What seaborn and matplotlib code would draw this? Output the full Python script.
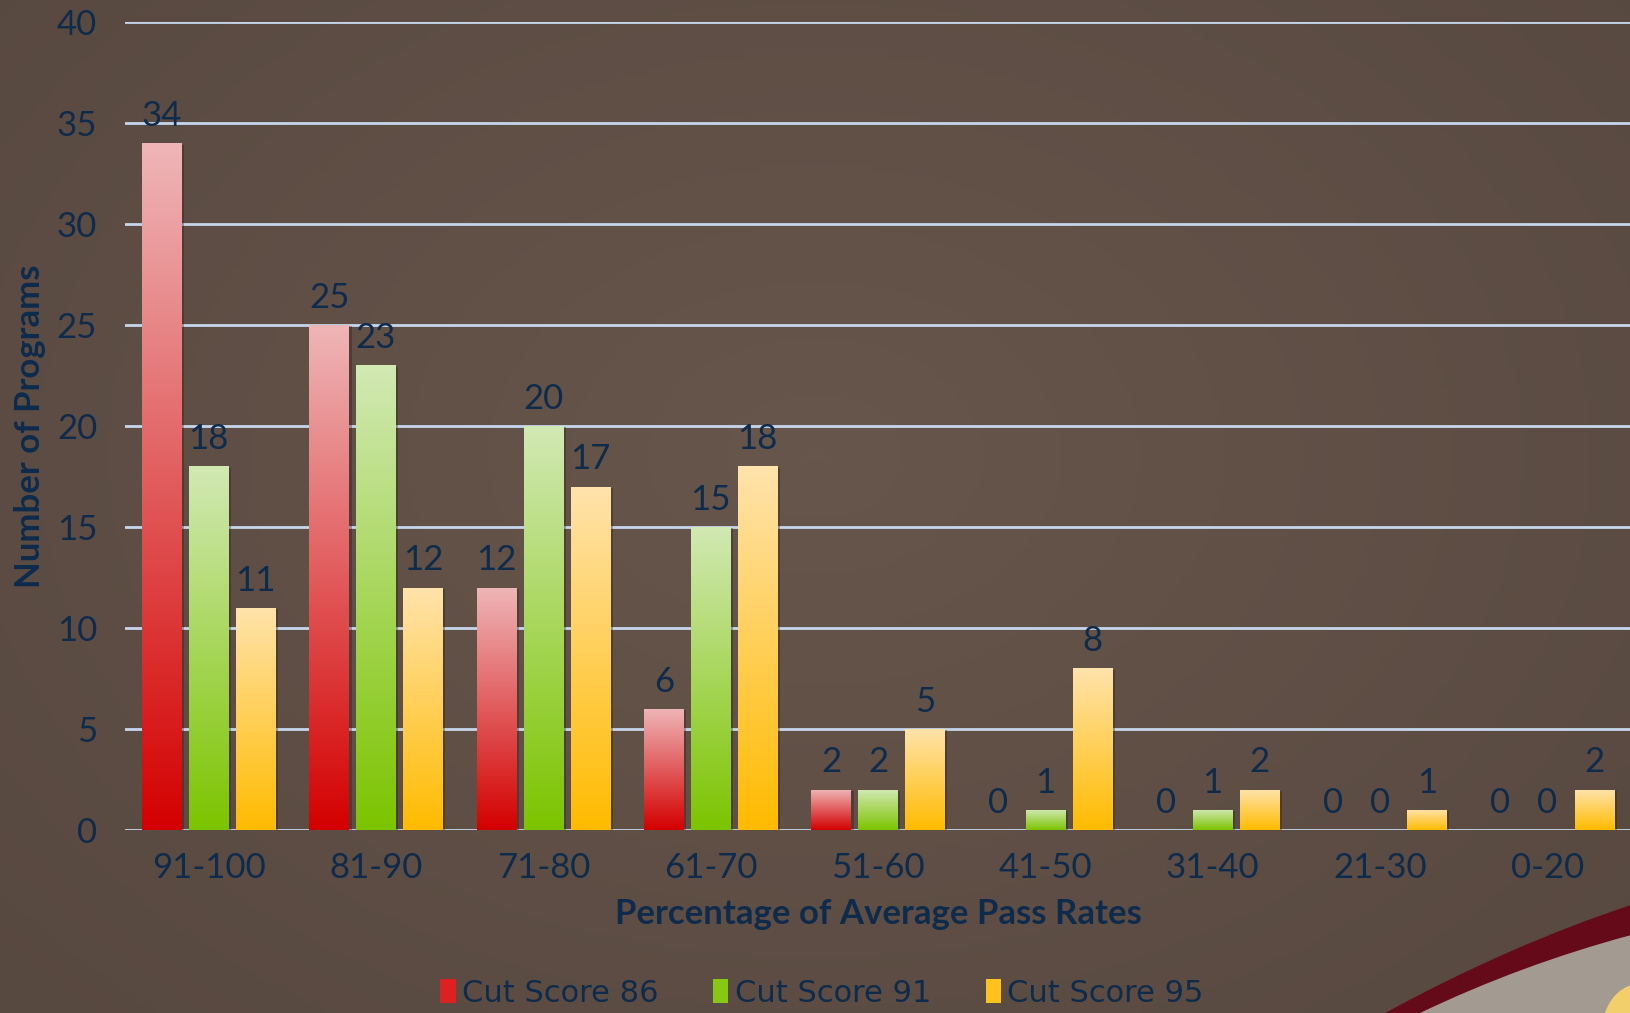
import numpy as np
import pandas as pd
import seaborn as sns
import matplotlib.pyplot as plt
import matplotlib.patheffects as pe
from matplotlib.colors import LinearSegmentedColormap
from matplotlib.patches import Patch, PathPatch
from matplotlib.path import Path

# data
ranges = ["91-100", "81-90", "71-80", "61-70", "51-60", "41-50", "31-40", "21-30", "0-20"]
series = ["Cut Score 86", "Cut Score 91", "Cut Score 95"]
cut86 = [34, 25, 12, 6, 2, 0, 0, 0, 0]
cut91 = [18, 23, 20, 15, 2, 1, 1, 0, 0]
cut95 = [11, 12, 17, 18, 5, 8, 2, 1, 2]

df = pd.DataFrame({
    "range": ranges * 3,
    "series": [series[0]] * 9 + [series[1]] * 9 + [series[2]] * 9,
    "count": cut86 + cut91 + cut95,
})

# gradient ends (top, bottom) for each series
grad = {
    series[0]: ("#efb6b8", "#d40000"),
    series[1]: ("#d2e9b4", "#7cc400"),
    series[2]: ("#ffe3ac", "#ffbb00"),
}
solid = {series[0]: "#dd2020", series[1]: "#86c814", series[2]: "#ffc21c"}

navy = "#0f2b4c"
gridc = "#c6d6ec"

sns.set_theme(style="white")
plt.rcParams["font.family"] = ["Lato", "DejaVu Sans"]

fig = plt.figure(figsize=(16.31, 10.13), dpi=100)

# background with soft radial light
bg = fig.add_axes([0, 0, 1, 1], zorder=-5)
yy, xx = np.mgrid[0:1:200j, 0:1:320j]
r = np.sqrt(((xx - 0.5) / 0.7) ** 2 + ((yy - 0.55) / 0.8) ** 2)
bgmap = LinearSegmentedColormap.from_list("bg", ["#67564b", "#574840"])
bg.imshow(np.clip(r, 0, 1), cmap=bgmap, extent=[0, 1, 0, 1], aspect="auto", origin="lower")
# corner swoosh decoration
W, H = 1631, 1013
def fx(p):
    return (p[0] / W, 1 - p[1] / H)
gray = Path([fx(p) for p in [(1410, 1013), (1520, 960), (1631, 935), (1631, 1013), (1410, 1013)]],
            [Path.MOVETO, Path.CURVE3, Path.CURVE3, Path.LINETO, Path.CLOSEPOLY])
bg.add_patch(PathPatch(gray, facecolor="#a39a92", edgecolor="none"))
band = Path([fx(p) for p in [(1385, 1013), (1510, 945), (1631, 905), (1631, 935), (1520, 965), (1420, 1013), (1385, 1013)]],
            [Path.MOVETO, Path.CURVE3, Path.CURVE3, Path.LINETO, Path.CURVE3, Path.CURVE3, Path.CLOSEPOLY])
bg.add_patch(PathPatch(band, facecolor="#640a18", edgecolor="none"))
blob = Path([fx(p) for p in [(1605, 1013), (1612, 992), (1631, 985), (1631, 1013), (1605, 1013)]],
            [Path.MOVETO, Path.CURVE3, Path.CURVE3, Path.LINETO, Path.CLOSEPOLY])
bg.add_patch(PathPatch(blob, facecolor="#f2cf6a", edgecolor="none"))
bg.set_xlim(0, 1)
bg.set_ylim(0, 1)
bg.axis("off")

ax = fig.add_axes([125 / W, 1 - 830 / H, 1 - 125 / W, (830 - 22) / H])
ax.patch.set_alpha(0)

sns.barplot(data=df, x="range", y="count", hue="series", order=ranges, hue_order=series,
            palette=solid, width=0.84, gap=0.16, ax=ax, legend=False, zorder=3, linewidth=0)

grad_img = np.linspace(0, 1, 256).reshape(-1, 1)
for cont, s in zip(ax.containers, series):
    cmap = LinearSegmentedColormap.from_list(s, [grad[s][1], grad[s][0]])
    for bar in cont:
        x0, w, h = bar.get_x(), bar.get_width(), bar.get_height()
        if h <= 0:
            continue
        bar.set_path_effects([pe.SimplePatchShadow(offset=(2, -1), shadow_rgbFace="#2a1e18", alpha=0.35),
                              pe.Normal()])
        im = ax.imshow(grad_img, cmap=cmap, extent=[x0, x0 + w, 0, h], origin="lower",
                       aspect="auto", zorder=4)
        im.set_clip_path(bar)
    ax.bar_label(cont, padding=8, fontsize=25, color=navy)

ax.set_xlim(-0.5, 8.5)
ax.set_ylim(0, 40)
ax.set_yticks(range(0, 41, 5))
ax.grid(axis="y", color=gridc, linewidth=2, zorder=1)
ax.set_axisbelow(True)
for side in ["top", "right", "left", "bottom"]:
    ax.spines[side].set_visible(False)
ax.tick_params(axis="both", length=0, labelsize=25, labelcolor=navy)
ax.tick_params(axis="x", pad=16)
ax.tick_params(axis="y", pad=20)
ax.set_xlabel("Percentage of Average Pass Rates", fontsize=25, fontweight="bold",
              color=navy, labelpad=10)
ax.set_ylabel("Number of Programs", fontsize=25, fontweight="bold", color=navy, labelpad=8)

handles = [Patch(facecolor=solid[s], edgecolor="none", label=s) for s in series]
fig.legend(handles=handles, loc="center", bbox_to_anchor=(822 / W, 1 - 993 / H), ncol=3,
           frameon=False, handlelength=0.5, handleheight=0.8, handletextpad=0.2,
           columnspacing=1.8, prop={"family": ["DejaVu Sans"], "size": 22},
           labelcolor=navy)

fig.savefig("out.png", dpi=100)
